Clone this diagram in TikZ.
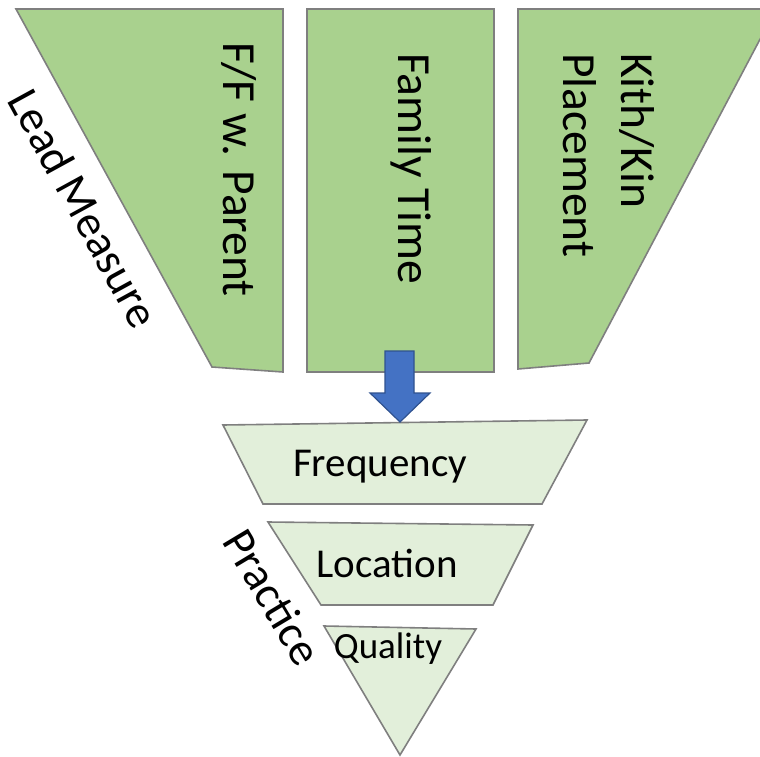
\documentclass[tikz,border=0pt]{standalone}
\usepackage{fontspec}
\setmainfont{Carlito}
\definecolor{leadgreen}{HTML}{A9D18E}
\definecolor{pracgreen}{HTML}{E2EFDA}
\definecolor{edgegray}{HTML}{7F7F7F}
\definecolor{arrowblue}{HTML}{4472C4}
\definecolor{arrowedge}{HTML}{2F528F}
\begin{document}
\begin{tikzpicture}[x=1pt,y=-1pt,
  leadshape/.style={fill=leadgreen,draw=edgegray,line width=1.6pt,line join=miter},
  pracshape/.style={fill=pracgreen,draw=edgegray,line width=1.6pt,line join=miter},
  bigtxt/.style={font=\fontsize{47.5}{58}\selectfont,inner sep=0pt},
  slanttxt/.style={font=\fontsize{46}{56}\selectfont,inner sep=0pt},
  midtxt/.style={font=\fontsize{41}{49}\selectfont,inner sep=0pt},
  smalltxt/.style={font=\fontsize{37}{44}\selectfont,inner sep=0pt}]
\useasboundingbox (0,0) rectangle (760,757);
% lead measure shapes
\draw[leadshape] (16,9) -- (283,9) -- (283,372) -- (212,367) -- cycle;
\draw[leadshape] (307,9) rectangle (494,372);
\draw[leadshape] (518,9) -- (776,9) -- (589,363) -- (518,369) -- cycle;
% practice shapes
\draw[pracshape] (223,425) -- (587,420) -- (542,504) -- (263,504) -- cycle;
\draw[pracshape] (268,522) -- (533,525) -- (493,605) -- (321,605) -- cycle;
\draw[pracshape] (324,626) -- (476,629) -- (400,755) -- cycle;
% blue arrow
\draw[fill=arrowblue,draw=arrowedge,line width=1.2pt,line join=miter]
  (385,351) -- (414,351) -- (414,393) -- (430,393) -- (400,422) -- (370,393) -- (385,393) -- cycle;
% texts
\node[bigtxt,rotate=-90,anchor=west] (ff) at (239,42) {F/F w. Parent};
\node[bigtxt,rotate=-90,anchor=west] (ft) at (411,53) {Family Time};
\node[bigtxt,rotate=-90,anchor=west,align=left] (kk) at (609,53) {Kith/Kin\\Placement};
\node[slanttxt,rotate=-61.3] (lm) at (84,208) {Lead Measure};
\node[slanttxt,rotate=-59] (pr) at (273,597) {Practice};
\node[midtxt,anchor=base] (fr) at (380,476) {Frequency};
\node[midtxt,anchor=base] (lo) at (387,577) {Location};
\node[smalltxt,anchor=base] (qu) at (388,658) {Quality};
\end{tikzpicture}
\end{document}
